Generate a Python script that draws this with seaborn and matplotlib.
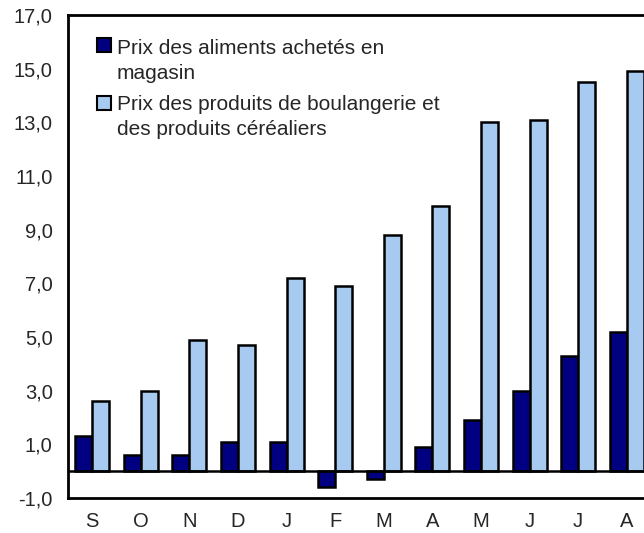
import matplotlib
matplotlib.use("Agg")
import matplotlib.pyplot as plt
import pandas as pd
import seaborn as sns
from matplotlib.patches import Rectangle

months = ["S", "O", "N", "D", "J", "F", "M", "A", "M", "J", "J", "A"]
store_food = [1.3, 0.6, 0.6, 1.1, 1.1, -0.6, -0.3, 0.9, 1.9, 3.0, 4.3, 5.2]
bakery = [2.6, 3.0, 4.9, 4.7, 7.2, 6.9, 8.8, 9.9, 13.0, 13.1, 14.5, 14.9]
series_names = [
    "Prix des aliments achetés en\nmagasin",
    "Prix des produits de boulangerie et\ndes produits céréaliers",
]
colors = ["#000080", "#a6caf0"]
y_ticks = [-1, 1, 3, 5, 7, 9, 11, 13, 15, 17]
y_labels = ["-1,0", "1,0", "3,0", "5,0", "7,0", "9,0", "11,0", "13,0", "15,0", "17,0"]

sns.set_style("white")
plt.rcParams["font.family"] = ["Liberation Sans", "DejaVu Sans"]

df = pd.DataFrame({
    "pos": list(range(len(months))) * 2,
    "value": store_food + bakery,
    "series": [series_names[0]] * len(months) + [series_names[1]] * len(months),
})

fig = plt.figure(figsize=(6.44, 5.33), dpi=100)
ax = fig.add_axes([68 / 644, 35 / 533, 583 / 644, 483 / 533])

sns.barplot(data=df, x="pos", y="value", hue="series", hue_order=series_names,
            palette=colors, saturation=1, width=0.7, edgecolor="black",
            linewidth=1.8, ax=ax, legend=False)

ax.axhline(0, color="black", lw=1.8, zorder=5)
ax.set_xlim(-0.5, 11.5)
ax.set_ylim(-1, 17)
ax.set_yticks(y_ticks)
ax.set_yticklabels(y_labels)
ax.set_xticks(range(len(months)))
ax.set_xticklabels(months)
ax.set_xlabel("")
ax.set_ylabel("")
ax.tick_params(axis="y", direction="in", length=8, width=1.8, pad=11, labelsize=14.5)
ax.tick_params(axis="x", length=0, pad=10, labelsize=14.5)
for side in ["top", "left", "bottom", "right"]:
    ax.spines[side].set_linewidth(2)
    ax.spines[side].set_color("black")

# legend drawn by hand so the square sits on the first line of each label
square_tops = [38, 96]
text_tops = [39, 95]
for name, col, sq, tt in zip(series_names, colors, square_tops, text_tops):
    ax.add_patch(Rectangle((0.0497, 1 - (sq + 14 - 15) / 483), 14 / 583, 14 / 483,
                           transform=ax.transAxes, facecolor=col,
                           edgecolor="black", lw=1.5, clip_on=False))
    ax.text(0.084, 1 - (tt - 15) / 483, name, transform=ax.transAxes,
            fontsize=15, va="top", ha="left", linespacing=1.42)

fig.savefig("out.png", dpi=100)
